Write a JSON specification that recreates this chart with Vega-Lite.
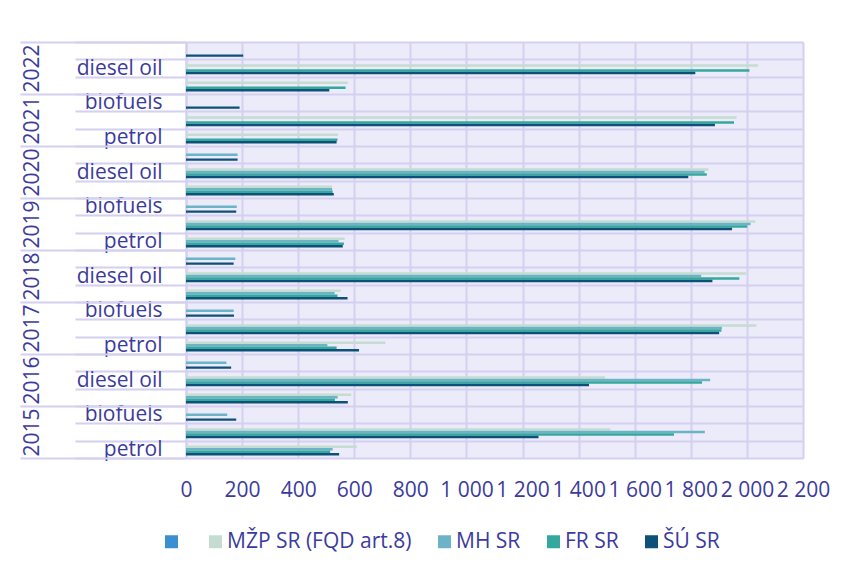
{
  "$schema": "https://vega.github.io/schema/vega-lite/v6.json",
  "width": 617,
  "height": 416,
  "autosize": {"type": "none"},
  "padding": {"left": 186, "top": 42, "right": 42, "bottom": 114},
  "data": {
    "values": [
      {"year": 2015, "fuel": "petrol", "source": "MŽP SR (FQD art.8)", "value": 609},
      {"year": 2015, "fuel": "petrol", "source": "MH SR", "value": 523},
      {"year": 2015, "fuel": "petrol", "source": "FR SR", "value": 514},
      {"year": 2015, "fuel": "petrol", "source": "ŠÚ SR", "value": 546},
      {"year": 2015, "fuel": "diesel oil", "source": "MŽP SR (FQD art.8)", "value": 1513},
      {"year": 2015, "fuel": "diesel oil", "source": "MH SR", "value": 1850},
      {"year": 2015, "fuel": "diesel oil", "source": "FR SR", "value": 1740},
      {"year": 2015, "fuel": "diesel oil", "source": "ŠÚ SR", "value": 1257},
      {"year": 2015, "fuel": "biofuels", "source": "MH SR", "value": 147},
      {"year": 2015, "fuel": "biofuels", "source": "ŠÚ SR", "value": 179},
      {"year": 2016, "fuel": "petrol", "source": "MŽP SR (FQD art.8)", "value": 589},
      {"year": 2016, "fuel": "petrol", "source": "MH SR", "value": 541},
      {"year": 2016, "fuel": "petrol", "source": "FR SR", "value": 531},
      {"year": 2016, "fuel": "petrol", "source": "ŠÚ SR", "value": 577},
      {"year": 2016, "fuel": "diesel oil", "source": "MŽP SR (FQD art.8)", "value": 1494},
      {"year": 2016, "fuel": "diesel oil", "source": "MH SR", "value": 1869},
      {"year": 2016, "fuel": "diesel oil", "source": "FR SR", "value": 1840},
      {"year": 2016, "fuel": "diesel oil", "source": "ŠÚ SR", "value": 1437},
      {"year": 2016, "fuel": "biofuels", "source": "MH SR", "value": 144},
      {"year": 2016, "fuel": "biofuels", "source": "ŠÚ SR", "value": 161},
      {"year": 2017, "fuel": "petrol", "source": "MŽP SR (FQD art.8)", "value": 711},
      {"year": 2017, "fuel": "petrol", "source": "MH SR", "value": 504},
      {"year": 2017, "fuel": "petrol", "source": "FR SR", "value": 537},
      {"year": 2017, "fuel": "petrol", "source": "ŠÚ SR", "value": 617},
      {"year": 2017, "fuel": "diesel oil", "source": "MŽP SR (FQD art.8)", "value": 2034},
      {"year": 2017, "fuel": "diesel oil", "source": "MH SR", "value": 1911},
      {"year": 2017, "fuel": "diesel oil", "source": "FR SR", "value": 1909},
      {"year": 2017, "fuel": "diesel oil", "source": "ŠÚ SR", "value": 1901},
      {"year": 2017, "fuel": "biofuels", "source": "MH SR", "value": 170},
      {"year": 2017, "fuel": "biofuels", "source": "ŠÚ SR", "value": 171},
      {"year": 2018, "fuel": "petrol", "source": "MŽP SR (FQD art.8)", "value": 551},
      {"year": 2018, "fuel": "petrol", "source": "MH SR", "value": 530},
      {"year": 2018, "fuel": "petrol", "source": "FR SR", "value": 540},
      {"year": 2018, "fuel": "petrol", "source": "ŠÚ SR", "value": 576},
      {"year": 2018, "fuel": "diesel oil", "source": "MŽP SR (FQD art.8)", "value": 1997},
      {"year": 2018, "fuel": "diesel oil", "source": "MH SR", "value": 1837},
      {"year": 2018, "fuel": "diesel oil", "source": "FR SR", "value": 1973},
      {"year": 2018, "fuel": "diesel oil", "source": "ŠÚ SR", "value": 1877},
      {"year": 2018, "fuel": "biofuels", "source": "MH SR", "value": 176},
      {"year": 2018, "fuel": "biofuels", "source": "ŠÚ SR", "value": 170},
      {"year": 2019, "fuel": "petrol", "source": "MŽP SR (FQD art.8)", "value": 566},
      {"year": 2019, "fuel": "petrol", "source": "MH SR", "value": 544},
      {"year": 2019, "fuel": "petrol", "source": "FR SR", "value": 563},
      {"year": 2019, "fuel": "petrol", "source": "ŠÚ SR", "value": 559},
      {"year": 2019, "fuel": "diesel oil", "source": "MŽP SR (FQD art.8)", "value": 2030},
      {"year": 2019, "fuel": "diesel oil", "source": "MH SR", "value": 2013},
      {"year": 2019, "fuel": "diesel oil", "source": "FR SR", "value": 2001},
      {"year": 2019, "fuel": "diesel oil", "source": "ŠÚ SR", "value": 1947},
      {"year": 2019, "fuel": "biofuels", "source": "MH SR", "value": 181},
      {"year": 2019, "fuel": "biofuels", "source": "ŠÚ SR", "value": 179},
      {"year": 2020, "fuel": "petrol", "source": "MŽP SR (FQD art.8)", "value": 521},
      {"year": 2020, "fuel": "petrol", "source": "MH SR", "value": 521},
      {"year": 2020, "fuel": "petrol", "source": "FR SR", "value": 523},
      {"year": 2020, "fuel": "petrol", "source": "ŠÚ SR", "value": 527},
      {"year": 2020, "fuel": "diesel oil", "source": "MŽP SR (FQD art.8)", "value": 1863},
      {"year": 2020, "fuel": "diesel oil", "source": "MH SR", "value": 1849},
      {"year": 2020, "fuel": "diesel oil", "source": "FR SR", "value": 1857},
      {"year": 2020, "fuel": "diesel oil", "source": "ŠÚ SR", "value": 1791},
      {"year": 2020, "fuel": "biofuels", "source": "MH SR", "value": 184},
      {"year": 2020, "fuel": "biofuels", "source": "ŠÚ SR", "value": 184},
      {"year": 2021, "fuel": "petrol", "source": "MŽP SR (FQD art.8)", "value": 542},
      {"year": 2021, "fuel": "petrol", "source": "FR SR", "value": 540},
      {"year": 2021, "fuel": "petrol", "source": "ŠÚ SR", "value": 537},
      {"year": 2021, "fuel": "diesel oil", "source": "MŽP SR (FQD art.8)", "value": 1963},
      {"year": 2021, "fuel": "diesel oil", "source": "FR SR", "value": 1954},
      {"year": 2021, "fuel": "diesel oil", "source": "ŠÚ SR", "value": 1886},
      {"year": 2021, "fuel": "biofuels", "source": "ŠÚ SR", "value": 191},
      {"year": 2022, "fuel": "petrol", "source": "MŽP SR (FQD art.8)", "value": 577},
      {"year": 2022, "fuel": "petrol", "source": "FR SR", "value": 569},
      {"year": 2022, "fuel": "petrol", "source": "ŠÚ SR", "value": 511},
      {"year": 2022, "fuel": "diesel oil", "source": "MŽP SR (FQD art.8)", "value": 2040},
      {"year": 2022, "fuel": "diesel oil", "source": "FR SR", "value": 2009},
      {"year": 2022, "fuel": "diesel oil", "source": "ŠÚ SR", "value": 1816},
      {"year": 2022, "fuel": "biofuels", "source": "ŠÚ SR", "value": 204}
    ]
  },
  "transform": [
    {"calculate": "datum.year + '|' + datum.fuel", "as": "key"}
  ],
  "layer": [
    {
      "mark": {"type": "rect", "opacity": 0},
      "encoding": {
        "y": {
          "field": "year",
          "type": "ordinal",
          "sort": "descending",
          "scale": {"type": "band", "paddingInner": 0, "paddingOuter": 0},
          "axis": {
            "orient": "left",
            "title": null,
            "grid": false,
            "domain": false,
            "tickBand": "extent",
            "tickSize": 166,
            "tickWidth": 2,
            "tickColor": "#D3D0F0",
            "labelAngle": 270,
            "labelAlign": "center",
            "labelBaseline": "middle",
            "labelPadding": -12,
            "labelFontSize": 21,
            "labelColor": "#3B3B9E"
          }
        }
      }
    },
    {
      "mark": {"type": "bar"},
      "encoding": {
        "y": {
          "field": "key",
          "type": "nominal",
          "sort": ["2022|biofuels", "2022|diesel oil", "2022|petrol", "2021|biofuels", "2021|diesel oil", "2021|petrol", "2020|biofuels", "2020|diesel oil", "2020|petrol", "2019|biofuels", "2019|diesel oil", "2019|petrol", "2018|biofuels", "2018|diesel oil", "2018|petrol", "2017|biofuels", "2017|diesel oil", "2017|petrol", "2016|biofuels", "2016|diesel oil", "2016|petrol", "2015|biofuels", "2015|diesel oil", "2015|petrol"],
          "scale": {"paddingInner": 0, "paddingOuter": 0},
          "axis": {
            "orient": "left",
            "title": null,
            "grid": true,
            "gridColor": "#D3D0F0",
            "gridWidth": 2,
            "domain": true,
            "domainColor": "#D3D0F0",
            "domainWidth": 2,
            "tickBand": "extent",
            "tickSize": 111,
            "tickWidth": 2,
            "tickColor": "#D3D0F0",
            "labelPadding": -87,
            "labelFontSize": 21,
            "labelColor": "#3B3B9E",
            "labelBaseline": "middle",
            "labelExpr": "((toNumber(split(datum.value,'|')[0]) % 2) == 1) == (split(datum.value,'|')[1] != 'diesel oil') ? split(datum.value,'|')[1] : ''"
          }
        },
        "yOffset": {
          "field": "source",
          "type": "nominal",
          "scale": {"domain": ["_", "MŽP SR (FQD art.8)", "MH SR", "FR SR", "ŠÚ SR"], "paddingInner": 0, "paddingOuter": 1.2}
        },
        "x": {
          "field": "value",
          "type": "quantitative",
          "scale": {"domain": [0, 2200], "nice": false},
          "axis": {
            "title": null,
            "values": [0, 200, 400, 600, 800, 1000, 1200, 1400, 1600, 1800, 2000, 2200],
            "grid": true,
            "gridColor": "#D3D0F0",
            "gridWidth": 2,
            "domain": false,
            "ticks": false,
            "labelPadding": 21,
            "labelFontSize": 21,
            "labelColor": "#3B3B9E",
            "labelOverlap": false,
            "labelFlush": false,
            "labelExpr": "replace(format(datum.value, ',d'), ',', ' ')"
          }
        },
        "color": {
          "field": "source",
          "type": "nominal",
          "scale": {
            "domain": ["_", "MŽP SR (FQD art.8)", "MH SR", "FR SR", "ŠÚ SR"],
            "range": ["#3A8FD0", "#C4DDD0", "#6DB3C8", "#35A89E", "#0D5078"]
          },
          "legend": {
            "title": null,
            "orient": "none",
            "direction": "horizontal",
            "legendX": -25,
            "legendY": 489,
            "symbolType": "square",
            "symbolSize": 169,
            "symbolStrokeWidth": 0,
            "symbolOpacity": 1,
            "labelFontSize": 21,
            "labelColor": "#3B3B9E",
            "labelOffset": 1,
            "columnPadding": 22,
            "labelLimit": 0,
            "labelExpr": "datum.label == '_' ? '' : datum.label"
          }
        }
      }
    }
  ],
  "resolve": {"scale": {"y": "independent"}},
  "config": {
    "font": "Open Sans",
    "view": {"stroke": null, "fill": "#ECEBF9"},
    "axis": {"labelFont": "Open Sans"},
    "legend": {"labelFont": "Open Sans"}
  }
}
